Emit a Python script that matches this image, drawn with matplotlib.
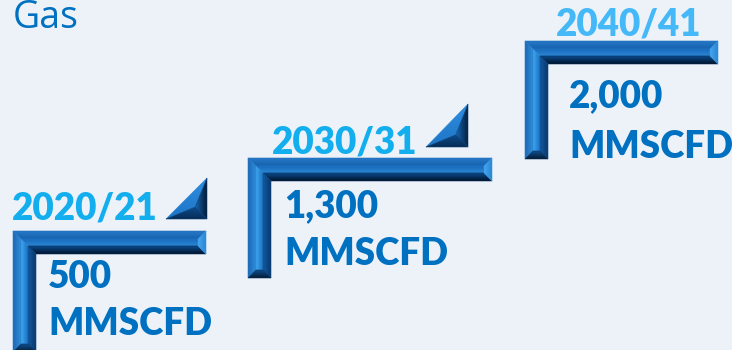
import matplotlib
matplotlib.use("Agg")
import matplotlib.pyplot as plt
import numpy as np
from matplotlib.patches import Polygon

# ---- data ----
periods = ["2020/21", "2030/31", "2040/41"]
capacity = [500, 1300, 2000]
unit = "MMSCFD"
title = "Gas"

# ---- layout (pixel space, y grows downward) ----
W, H = 732, 350
corner_x = [13, 248, 525]
corner_y = [231, 158, 41]
bar_end_x = [206, 492, 718]
bar_bottom_y = [352, 278, 159]
thick = 23
bevel = 8
period_x = [12, 272, 556]
period_base = [219, 153, 35]
value_x = [48, 284, 569]
value_base = [288, 217, 107]
unit_base = [335, 265, 158]
arrow_boxes = [(166, 207, 178, 219), (426, 468, 104, 147), None]
period_colors = ["#12AEEE", "#12AEEE", "#45B8F8"]
value_color = "#0070C0"
bg = "#EDF2F9"
label_size = 26.5

fig = plt.figure(figsize=(W / 100, H / 100), dpi=100, facecolor=bg)
ax = fig.add_axes([0, 0, 1, 1])
ax.set_xlim(0, W)
ax.set_ylim(H, 0)
ax.axis("off")
ax.set_facecolor(bg)


def grad_poly(pts, c0, c1, direction="v"):
    """Fill a polygon with a linear gradient from c0 to c1."""
    pts = np.asarray(pts, float)
    x0, x1 = pts[:, 0].min(), pts[:, 0].max()
    y0, y1 = pts[:, 1].min(), pts[:, 1].max()
    c0 = np.array(matplotlib.colors.to_rgb(c0))
    c1 = np.array(matplotlib.colors.to_rgb(c1))
    n = 64
    t = np.linspace(0, 1, n)
    if direction == "v":
        img = (c0[None, :] * (1 - t[:, None]) + c1[None, :] * t[:, None])[:, None, :]
    else:
        img = (c0[None, :] * (1 - t[:, None]) + c1[None, :] * t[:, None])[None, :, :]
    poly = Polygon(pts, closed=True, facecolor="none", edgecolor="none")
    ax.add_patch(poly)
    im = ax.imshow(img, extent=(x0, x1, y1, y0), origin="upper",
                   interpolation="bilinear", aspect="auto", zorder=2)
    im.set_clip_path(poly)
    # thin outline to avoid seams
    ax.add_patch(Polygon(pts, closed=True, facecolor="none",
                         edgecolor=tuple((c0 + c1) / 2), lw=0.4, zorder=2))


def step_bracket(x0, y0, x1, y2):
    t, b = thick, bevel
    xi, yi = x0 + t, y0 + t
    # horizontal arm: top bevel, face, bottom bevel, end cap
    grad_poly([(x0, y0), (x1, y0), (x1 - b, y0 + b), (x0 + b, y0 + b)],
              "#2678C6", "#1562AE")
    grad_poly([(x0 + b, y0 + b), (x1 - b, y0 + b), (x1 - b, yi - b), (xi - b, yi - b)],
              "#1A6BBC", "#2A86D4")
    grad_poly([(xi - b, yi - b), (x1 - b, yi - b), (x1, yi), (xi, yi)],
              "#0A4A8C", "#01142A")
    grad_poly([(x1, y0), (x1, yi), (x1 - b, yi - b), (x1 - b, y0 + b)],
              "#46A6EE", "#2B86D4", "h")
    # vertical arm: left bevel, face, right bevel, bottom cap
    grad_poly([(x0, y0), (x0 + b, y0 + b), (x0 + b, y2 - b), (x0, y2)],
              "#1D68B4", "#2F8DDA", "h")
    grad_poly([(x0 + b, y0 + b), (xi - b, yi - b), (xi - b, y2 - b), (x0 + b, y2 - b)],
              "#40A6F0", "#1A72C2", "h")
    grad_poly([(xi - b, yi - b), (xi, yi), (xi, y2), (xi - b, y2 - b)],
              "#135AA3", "#08386A", "h")
    grad_poly([(x0 + b, y2 - b), (xi - b, y2 - b), (xi, y2), (x0, y2)],
              "#0E4F8F", "#041A33")


def arrow_tri(xl, xr, yt, yb):
    r = 0.29 * (xr - xl)
    cx, cy = xr - r, yb - r
    grad_poly([(xl, yb), (xr, yt), (cx, cy)], "#2E8EE0", "#1E74C6")
    grad_poly([(xl, yb), (cx, cy), (xr, yb)], "#0C4C8E", "#072C56")
    grad_poly([(xr, yt), (xr, yb), (cx, cy)], "#1466B6", "#031A33", "h")


for i in range(len(periods)):
    step_bracket(corner_x[i], corner_y[i], bar_end_x[i], bar_bottom_y[i])
    if arrow_boxes[i] is not None:
        arrow_tri(*arrow_boxes[i])
    ax.text(period_x[i], period_base[i], periods[i], color=period_colors[i],
            fontsize=label_size, fontweight="heavy", family="Lato",
            va="baseline", zorder=5)
    ax.text(value_x[i], value_base[i], f"{capacity[i]:,}", color=value_color,
            fontsize=label_size, fontweight="heavy", family="Lato",
            va="baseline", zorder=5)
    ax.text(value_x[i], unit_base[i], unit, color=value_color,
            fontsize=label_size, fontweight="heavy", family="Lato",
            va="baseline", zorder=5)

ax.text(13, 28, title, color="#0070C0", fontsize=27, family="Open Sans",
        va="baseline", zorder=5)

fig.savefig("out.png", dpi=100, facecolor=bg)
